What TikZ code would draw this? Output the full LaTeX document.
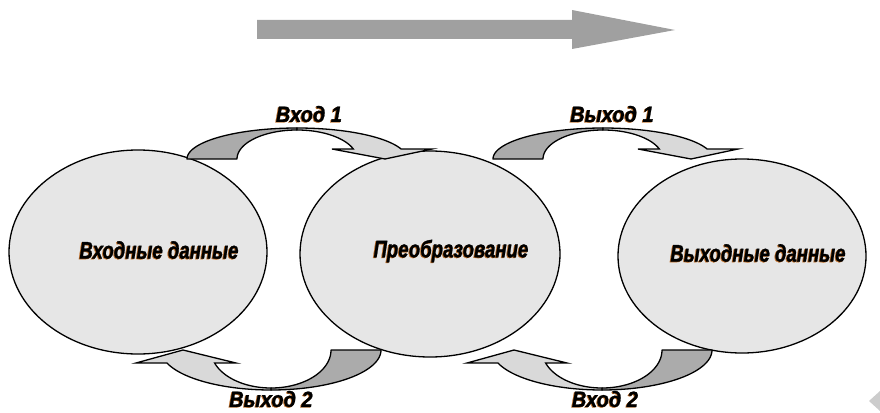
\documentclass[tikz,border=0pt]{standalone}
\usepackage{fontspec}
\usepackage{graphicx}
\setmainfont{Liberation Sans}[BoldItalicFeatures={FakeBold=1.2}]
\usetikzlibrary{shapes.geometric,calc}
\definecolor{ellfill}{HTML}{E6E6E6}
\definecolor{arrlightc}{HTML}{D9D9D9}
\definecolor{arrdarkc}{HTML}{ABABAB}
\definecolor{bigarrc}{HTML}{A0A0A0}
\definecolor{glowc}{RGB}{190,110,40}
\definecolor{cornerc}{HTML}{CCCCCC}
\tikzset{
  elps/.style={ellipse, draw=black, line width=1.3pt, fill=ellfill, inner sep=0pt},
  arrdark/.style={draw=black, line width=1.3pt, fill=arrdarkc, line join=round},
  arrlight/.style={draw=black, line width=1.3pt, fill=arrlightc, line join=miter},
  lbl/.style={font=\fontsize{20}{24}\selectfont\bfseries\itshape, inner sep=0pt},
  elbl/.style={font=\fontsize{20}{24}\selectfont\bfseries\itshape, inner sep=0pt},
}
\newcommand\glowtext[6]{% name, position, style, xscale, yscale, text
  \node[#3, text=glowc] at ($#2+(-0.9,0.6)$) {\scalebox{#4}[#5]{#6}};
  \node[#3] (#1) at #2 {\scalebox{#4}[#5]{#6}};
}
\newcommand\cvarrow[5]{% cx, by, H, d, rotation
  \begin{scope}[shift={(#1,#2)}, rotate=#5]
    \pgfmathsetmacro\cvHi{#3-2}
    \pgfmathsetmacro\cvTo{360-asin(#4/#3)}
    \pgfmathsetmacro\cvTi{360-asin(#4/\cvHi)}
    \filldraw[arrdark] plot[domain=180:270,samples=40] ({110*cos(\x)},{#3*sin(\x)})
      -- plot[domain=270:180,samples=40] ({60*cos(\x)},{\cvHi*sin(\x)}) -- cycle;
    \filldraw[arrlight] plot[domain=270:\cvTo,samples=40] ({110*cos(\x)},{#3*sin(\x)})
      -- (135,-#4) -- (88,0) -- (35,-#4)
      -- plot[domain=\cvTi:270,samples=40] ({60*cos(\x)},{\cvHi*sin(\x)}) -- cycle;
  \end{scope}}
\begin{document}
\begin{tikzpicture}[x=1pt,y=-1pt]
\useasboundingbox (0,0) rectangle (880,412);
% big process arrow
\fill[bigarrc] (257,20) -- (572,20) -- (572,10) -- (675,30) -- (572,49) -- (572,39) -- (257,39) -- cycle;
% ellipses
\node[elps, minimum width=258pt, minimum height=204pt] (inp) at (138,252) {};
\node[elps, minimum width=260pt, minimum height=206pt] (proc) at (430,254) {};
\node[elps, minimum width=248pt, minimum height=194pt] (outp) at (742,256) {};
% ellipse labels
\glowtext{tin}{(159,250)}{elbl}{0.93}{1.2}{Входные данные}
\glowtext{tproc}{(451,251)}{elbl}{0.93}{1.2}{Преобразование}
\glowtext{tout}{(758,253)}{elbl}{0.93}{1.2}{Выходные данные}
% curved arrows
\cvarrow{297}{159}{31}{10}{0}
\cvarrow{603}{159}{31}{10}{0}
\cvarrow{271}{350}{40}{13}{180}
\cvarrow{602}{350}{40}{13}{180}
% arrow labels
\glowtext{lin1}{(309,114)}{lbl}{1}{1.1}{Вход 1}
\glowtext{lout1}{(612,114)}{lbl}{1}{1.1}{Выход 1}
\glowtext{lout2}{(271,399)}{lbl}{1}{1.1}{Выход 2}
\glowtext{lin2}{(605,399)}{lbl}{1}{1.1}{Вход 2}
% corner fragment
\fill[cornerc] (880,391) -- (869,401) -- (880,411) -- cycle;
\end{tikzpicture}
\end{document}
